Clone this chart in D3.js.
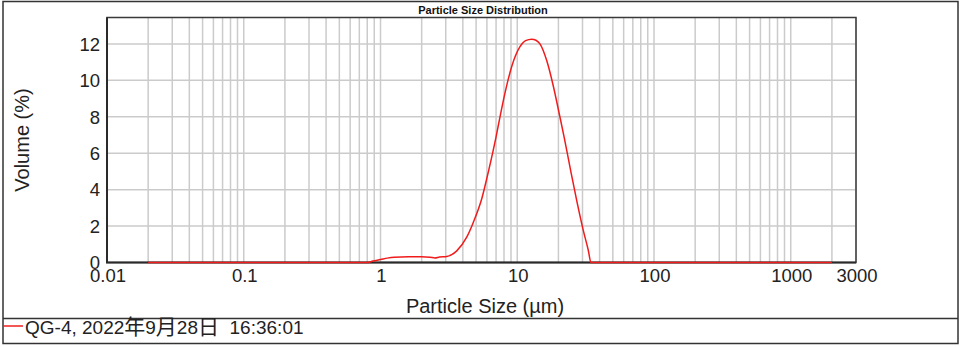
<!DOCTYPE html>
<html>
<head>
<meta charset="utf-8">
<script src="https://cdn.jsdelivr.net/npm/d3@7"></script>
<style>
  body { margin: 0; background: #fff; }
  text { font-family: Arial, "Liberation Sans", "Noto Sans CJK SC", sans-serif; fill: #222; }
</style>
</head>
<body>
<div id="chart"></div>
<script>
// particle sizes (um) and volume (%)
var sizes = [0.02, 0.1, 0.5, 0.8, 0.88, 1.0, 1.12, 1.26, 1.6, 2.0, 2.3, 2.5, 2.7, 3.05,
    3.61, 4.27, 4.77, 5.5, 6.2, 7.0, 7.48, 8.13, 9.1, 10.47, 11.5, 12.76, 13.7, 14.66,
    16.4, 18.4, 20.5, 22.0, 24.5, 27.2, 30.4, 33.1, 34.6, 100, 1000, 2000];
var volume = [0, 0, 0, 0, 0.08, 0.16, 0.24, 0.29, 0.31, 0.31, 0.29, 0.25, 0.30, 0.33,
    0.64, 1.39, 2.2, 3.5, 5.1, 6.9, 8.0, 9.3, 10.75, 11.85, 12.18, 12.26, 12.2, 12.0,
    11.1, 9.65, 8.0, 6.9, 5.1, 3.41, 1.76, 0.66, 0, 0, 0, 0];

var xTicks = [0.01, 0.1, 1, 10, 100, 1000, 3000];
var xTickLabels = ["0.01", "0.1", "1", "10", "100", "1000", "3000"];
var yTicks = [0, 2, 4, 6, 8, 10, 12];

var title = "Particle Size Distribution";
var legendLabel = "QG-4, 2022年9月28日  16:36:01";

var width = 963,
    height = 347;

var plotLeft = 107, plotRight = 856,
    plotTop = 17.5, plotBottom = 262.5;

var svg = d3.select("#chart").append("svg")
    .attr("width", width)
    .attr("height", height);

var x = d3.scaleLog()
    .domain([0.01, 3000])
    .range([plotLeft, plotRight]);

var y = d3.scaleLinear()
    .domain([0, 13.45])
    .range([plotBottom, plotTop]);

// outer frame + legend strip
svg.append("rect")
    .attr("x", 3).attr("y", 1.5)
    .attr("width", 955).attr("height", 342)
    .attr("fill", "none")
    .attr("stroke", "#333")
    .attr("stroke-width", 1.5);
svg.append("line")
    .attr("x1", 3).attr("x2", 958)
    .attr("y1", 318.5).attr("y2", 318.5)
    .attr("stroke", "#333")
    .attr("stroke-width", 1.5);

// grid
var grid = svg.append("g").attr("class", "grid");
grid.selectAll(".vgrid")
    .data(x.ticks())
    .enter().append("line")
    .attr("class", "vgrid")
    .attr("x1", function(d) { return x(d); })
    .attr("x2", function(d) { return x(d); })
    .attr("y1", plotTop)
    .attr("y2", plotBottom)
    .attr("stroke", "#cbcbcb")
    .attr("stroke-width", 1.5);
grid.selectAll(".hgrid")
    .data(yTicks.slice(1))
    .enter().append("line")
    .attr("class", "hgrid")
    .attr("x1", plotLeft)
    .attr("x2", plotRight)
    .attr("y1", function(d) { return y(d); })
    .attr("y2", function(d) { return y(d); })
    .attr("stroke", "#cbcbcb")
    .attr("stroke-width", 1.5);

// plot border
svg.append("rect")
    .attr("x", plotLeft).attr("y", plotTop)
    .attr("width", plotRight - plotLeft)
    .attr("height", plotBottom - plotTop)
    .attr("fill", "none")
    .attr("stroke", "#3a3a3a")
    .attr("stroke-width", 1.5);
svg.append("path")
    .attr("d", "M" + plotLeft + "," + plotTop + "V" + plotBottom + "H" + plotRight)
    .attr("fill", "none")
    .attr("stroke", "#2a2a2a")
    .attr("stroke-width", 2);

// axis labels
svg.selectAll(".xtick")
    .data(xTicks)
    .enter().append("text")
    .attr("class", "xtick")
    .attr("x", function(d) { return x(d) + 1; })
    .attr("y", 282)
    .style("text-anchor", "middle")
    .style("font-size", "18.5px")
    .text(function(d, i) { return xTickLabels[i]; });

svg.selectAll(".ytick")
    .data(yTicks)
    .enter().append("text")
    .attr("class", "ytick")
    .attr("x", 100)
    .attr("y", function(d) { return y(d); })
    .attr("dy", "0.37em")
    .style("text-anchor", "end")
    .style("font-size", "18.5px")
    .text(function(d) { return d; });

svg.append("text")
    .attr("x", 485)
    .attr("y", 313)
    .style("text-anchor", "middle")
    .style("font-size", "20px")
    .text("Particle Size (µm)");

svg.append("text")
    .attr("transform", "translate(29,140) rotate(-90)")
    .style("text-anchor", "middle")
    .style("font-size", "20px")
    .text("Volume (%)");

svg.append("text")
    .attr("x", 483)
    .attr("y", 14)
    .style("text-anchor", "middle")
    .style("font-size", "11px")
    .style("font-weight", "bold")
    .style("fill", "#111")
    .text(title);

// distribution curve
var line = d3.line()
    .x(function(d, i) { return x(sizes[i]); })
    .y(function(d) { return y(d); })
    .curve(d3.curveMonotoneX);

svg.append("path")
    .datum(volume)
    .attr("d", line)
    .attr("fill", "none")
    .attr("stroke", "#f01c1c")
    .attr("stroke-width", 1.5);

// legend
svg.append("line")
    .attr("x1", 3).attr("x2", 23)
    .attr("y1", 326).attr("y2", 326)
    .attr("stroke", "#f01c1c")
    .attr("stroke-width", 1.5);
var legendText = svg.append("text")
    .attr("x", 25)
    .attr("y", 334)
    .style("font-size", "19px")
    .style("white-space", "pre");
// CJK glyphs drawn a bit larger, as in the picture
legendText.selectAll("tspan")
    .data(legendLabel.split(/([年月日])/).filter(function(s) { return s.length; }))
    .enter().append("tspan")
    .style("font-size", function(s) { return /[年月日]/.test(s) ? "21px" : null; })
    .text(function(s) { return s; });
</script>
</body>
</html>
